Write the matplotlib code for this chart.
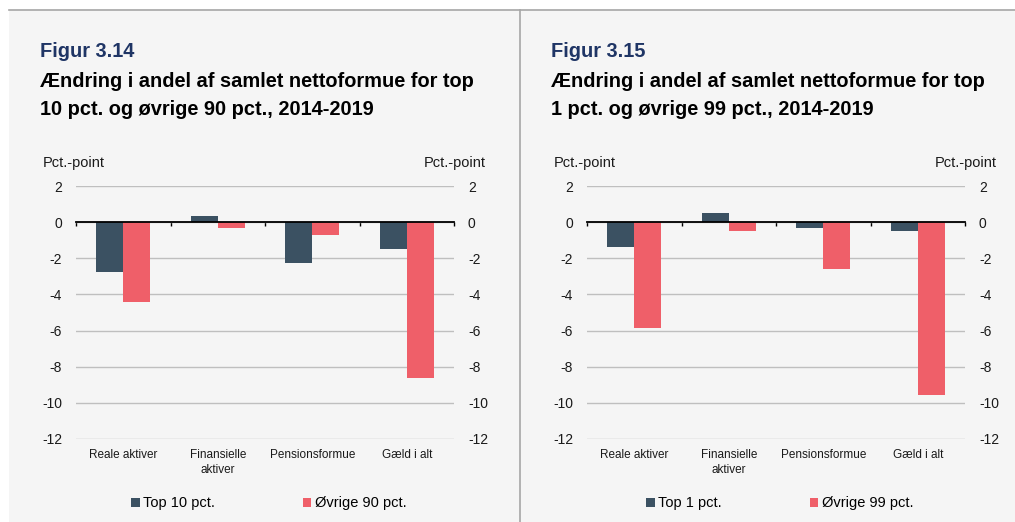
import matplotlib.pyplot as plt
from matplotlib.patches import Rectangle
from matplotlib.lines import Line2D
import numpy as np

plt.rcParams['font.family'] = ['Liberation Sans', 'DejaVu Sans']

categories = ['Reale aktiver', 'Finansielle\naktiver', 'Pensionsformue', 'Gæld i alt']

top10 = [-2.78, 0.33, -2.25, -1.46]
rest90 = [-4.44, -0.35, -0.72, -8.61]

top1 = [-1.37, 0.52, -0.35, -0.48]
rest99 = [-5.85, -0.50, -2.57, -9.57]

yticks = [2, 0, -2, -4, -6, -8, -10, -12]

DARK = '#3b5162'
RED = '#ef5f69'
BG = '#f5f5f5'

W, H = 1015, 522
fig = plt.figure(figsize=(W / 100, H / 100), dpi=100)
fig.patch.set_facecolor('white')


def fx(x):
    return x / W


def fy(y):
    return 1 - y / H


# panel background and frame lines
fig.patches.append(Rectangle((fx(9), 0), 1 - fx(9), fy(10), transform=fig.transFigure,
                             facecolor=BG, edgecolor='none', zorder=-5))
fig.lines.append(Line2D([fx(9), 1], [fy(10), fy(10)], transform=fig.transFigure,
                        color='#a6a6a6', lw=1.2))
fig.lines.append(Line2D([fx(520), fx(520)], [0, fy(10)], transform=fig.transFigure,
                        color='#a6a6a6', lw=1.2))


def panel(x0, x1, fig_no, line1, line2, s1, s2, names):
    ax = fig.add_axes([fx(x0), fy(439), fx(x1 - x0), fy(186) - fy(439)])
    ax.set_facecolor(BG)
    x = np.arange(len(categories))
    w = 0.285
    ax.bar(x - w / 2, s1, w, color=DARK, label=names[0], zorder=3)
    ax.bar(x + w / 2, s2, w, color=RED, label=names[1], zorder=3)
    ax.set_xlim(-0.5, len(categories) - 0.5)
    ax.set_ylim(-12, 2)
    ax.set_yticks(yticks)
    ax.set_yticklabels([str(t) for t in yticks])
    ax.yaxis.grid(True, color='#bfbfbf', lw=1)
    ax.set_axisbelow(True)
    for s in ['top', 'left', 'right']:
        ax.spines[s].set_visible(False)
    ax.spines['bottom'].set_position(('data', 0))
    ax.spines['bottom'].set_color('black')
    ax.spines['bottom'].set_linewidth(1.3)
    ax.spines['bottom'].set_zorder(4)
    ax.set_xticks(np.arange(-0.5, len(categories), 1.0))
    ax.set_xticklabels([])
    ax.tick_params(axis='x', direction='out', length=3, width=1, color='black')
    ax.tick_params(axis='y', length=0, labelsize=10, labelleft=True, labelright=True,
                   pad=10, colors='#1a1a1a')
    for xi, c in zip(x, categories):
        ax.text(xi, -0.04, c, transform=ax.get_xaxis_transform(), ha='center', va='top',
                fontsize=8.5, color='#1a1a1a', linespacing=1.3)
    ax.legend(loc='upper center', bbox_to_anchor=(0.51, -0.175), ncol=2, frameon=False,
              fontsize=10.5, handlelength=0.6, handleheight=0.6, handletextpad=0.25,
              columnspacing=6.0)
    # headings
    fig.text(fx(x0 - 36), fy(57), fig_no, fontsize=14.4, fontweight='bold', color='#1f3565',
             va='baseline')
    fig.text(fx(x0 - 36), fy(87), line1, fontsize=14.4, fontweight='bold', color='black',
             va='baseline')
    fig.text(fx(x0 - 36), fy(115), line2, fontsize=14.4, fontweight='bold', color='black',
             va='baseline')
    fig.text(fx(x0 - 33), fy(163), 'Pct.-point', fontsize=10.5, va='center', color='#1a1a1a')
    fig.text(fx(x1 + 32), fy(163), 'Pct.-point', fontsize=10.5, va='center', ha='right',
             color='#1a1a1a')
    return ax


panel(76, 454, 'Figur 3.14', 'Ændring i andel af samlet nettoformue for top',
      '10 pct. og øvrige 90 pct., 2014-2019', top10, rest90, ['Top 10 pct.', 'Øvrige 90 pct.'])
panel(587, 965, 'Figur 3.15', 'Ændring i andel af samlet nettoformue for top',
      '1 pct. og øvrige 99 pct., 2014-2019', top1, rest99, ['Top 1 pct.', 'Øvrige 99 pct.'])

fig.savefig('out.png', dpi=100, facecolor=fig.get_facecolor())
